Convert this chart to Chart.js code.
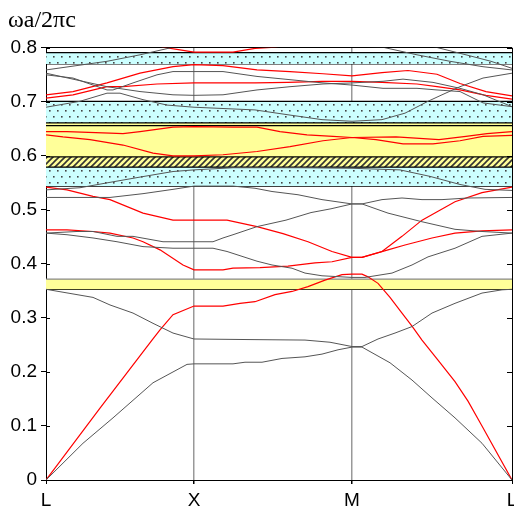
<!DOCTYPE html>
<html>
<head>
<meta charset="utf-8">
<script src="https://cdn.jsdelivr.net/npm/chart.js@4/dist/chart.umd.min.js"></script>
<style>
  body { margin: 0; background: #fff; }
</style>
</head>
<body>
<canvas id="myChart" width="514" height="511"></canvas>
<script>
// k-path positions (distance along L-X-M-L) and labels
const kPos = [0, 148, 306, 466];
const kLabels = ['L', 'X', 'M', 'L'];
const yTicks = [0, 0.1, 0.2, 0.3, 0.4, 0.5, 0.6, 0.7, 0.8];

// gaps: lower edge, upper edge, fill style
const gapLo = [0.353, 0.544, 0.579, 0.598, 0.656, 0.661, 0.770];
const gapHi = [0.372, 0.579, 0.598, 0.656, 0.661, 0.701, 0.791];
const gapFill = ['yellow', 'dots', 'hatch', 'yellow', 'yellow', 'dots', 'dots'];

// bands, [k, omega a / 2 pi c]
const gray1 = [[0,0],[37,0.068],[67,0.115],[107,0.18],[141,0.214],[148,0.215],[187,0.215],[199,0.218],[216,0.218],[236,0.225],[259,0.228],[276,0.233],[292,0.241],[306,0.246],[316,0.246],[344,0.217],[366,0.185],[386,0.152],[409,0.115],[436,0.068],[466,0]];
const gray2 = [[0,0.353],[47,0.338],[64,0.324],[87,0.309],[107,0.290],[127,0.272],[148,0.261],[200,0.260],[259,0.259],[284,0.255],[306,0.247],[316,0.247],[332,0.261],[349,0.272],[366,0.284],[386,0.309],[409,0.327],[436,0.346],[456,0.352],[466,0.353]];
const red1 = [[0,0],[54,0.133],[106,0.259],[114,0.278],[127,0.306],[148,0.322],[177,0.322],[194,0.327],[209,0.330],[229,0.343],[246,0.349],[262,0.358],[279,0.370],[296,0.380],[306,0.381],[316,0.381],[322,0.376],[332,0.364],[344,0.338],[356,0.309],[366,0.285],[376,0.259],[392,0.222],[409,0.182],[422,0.146],[436,0.100],[466,0]];
const gray3 = [[0,0.457],[21,0.454],[47,0.448],[71,0.441],[97,0.432],[127,0.429],[148,0.429],[167,0.429],[181,0.423],[201,0.411],[211,0.405],[226,0.398],[246,0.392],[259,0.383],[276,0.378],[306,0.375],[319,0.375],[346,0.383],[366,0.398],[382,0.413],[409,0.429],[436,0.451],[466,0.457]];
const red2 = [[0,0.463],[21,0.463],[47,0.460],[64,0.457],[87,0.448],[97,0.441],[114,0.426],[137,0.398],[148,0.389],[177,0.389],[187,0.392],[214,0.393],[242,0.396],[269,0.402],[286,0.404],[306,0.412],[316,0.412],[342,0.426],[359,0.435],[386,0.448],[409,0.457],[436,0.461],[466,0.463]];
const gray4 = [[0,0.457],[31,0.460],[47,0.460],[71,0.451],[87,0.451],[117,0.441],[148,0.441],[167,0.441],[177,0.448],[187,0.454],[211,0.469],[240,0.481],[265,0.495],[285,0.502],[306,0.511],[316,0.511],[336,0.519],[356,0.522],[376,0.519],[396,0.519],[422,0.522],[466,0.523]];
const red3 = [[0,0.542],[21,0.537],[47,0.525],[64,0.519],[97,0.494],[127,0.481],[148,0.481],[181,0.481],[211,0.469],[237,0.456],[262,0.441],[286,0.423],[306,0.412],[316,0.412],[336,0.423],[356,0.451],[376,0.481],[409,0.515],[436,0.532],[466,0.542]];
const gray5 = [[0,0.523],[64,0.523],[97,0.530],[127,0.538],[148,0.544],[187,0.544],[209,0.540],[226,0.534],[252,0.528],[276,0.519],[306,0.511],[316,0.511],[342,0.494],[376,0.478],[409,0.464],[436,0.460],[466,0.457]];
const gray6 = [[0,0.537],[34,0.541],[61,0.550],[95,0.561],[127,0.571],[148,0.574],[187,0.578],[254,0.578],[306,0.577],[354,0.574],[384,0.562],[414,0.547],[439,0.538],[466,0.536]];
const red4 = [[0,0.645],[21,0.645],[64,0.642],[77,0.641],[94,0.645],[127,0.653],[148,0.654],[187,0.653],[211,0.653],[234,0.645],[261,0.639],[287,0.636],[306,0.634],[350,0.635],[393,0.630],[420,0.636],[441,0.641],[466,0.645]];
const red5 = [[0,0.639],[17,0.635],[44,0.630],[77,0.620],[107,0.605],[127,0.600],[148,0.600],[177,0.602],[211,0.608],[244,0.617],[277,0.628],[306,0.634],[330,0.630],[357,0.622],[387,0.622],[414,0.628],[437,0.636],[466,0.638]];
const gray7 = [[0,0.690],[34,0.701],[61,0.716],[74,0.716],[97,0.704],[121,0.694],[148,0.690],[209,0.685],[242,0.676],[276,0.667],[306,0.664],[336,0.667],[359,0.679],[382,0.701],[396,0.713],[414,0.728],[437,0.744],[466,0.753]];
const gray8 = [[0,0.753],[44,0.735],[61,0.728],[94,0.719],[127,0.713],[148,0.712],[177,0.713],[211,0.722],[244,0.728],[277,0.733],[306,0.735],[337,0.738],[357,0.742],[387,0.736],[414,0.725],[437,0.713],[466,0.691]];
const gray9 = [[0,0.750],[27,0.744],[61,0.722],[67,0.722],[87,0.735],[111,0.750],[127,0.756],[148,0.756],[177,0.756],[211,0.747],[244,0.741],[277,0.735],[306,0.731],[337,0.725],[371,0.725],[391,0.722],[414,0.719],[437,0.698],[466,0.691]];
const red6 = [[0,0.713],[27,0.719],[61,0.735],[94,0.753],[127,0.765],[148,0.769],[177,0.767],[211,0.759],[244,0.756],[277,0.752],[306,0.748],[336,0.754],[362,0.758],[391,0.751],[414,0.734],[440,0.719],[466,0.711]];
const red7 = [[0,0.707],[27,0.713],[61,0.728],[77,0.728],[111,0.733],[148,0.735],[209,0.735],[242,0.736],[276,0.738],[306,0.738],[336,0.736],[371,0.733],[391,0.728],[414,0.722],[440,0.712],[466,0.705]];
const gray10 = [[0,0.759],[61,0.775],[94,0.787],[127,0.801],[150,0.808],[241,0.803],[300,0.804],[337,0.801],[371,0.787],[404,0.775],[437,0.765],[466,0.759]];
const gray11 = [[360,0.812],[390,0.801],[420,0.787],[445,0.775],[466,0.762]];
const red8 = [[100,0.815],[117,0.801],[134,0.796],[148,0.792],[187,0.792],[209,0.799],[229,0.801],[250,0.81]];

const grayBands = [gray1, gray2, gray3, gray4, gray5, gray6, gray7, gray8, gray9, gray10, gray11];
const redBands = [red1, red2, red3, red4, red5, red6, red7, red8];

function makePattern(kind) {
  const c = document.createElement('canvas');
  const g = c.getContext('2d');
  if (kind === 'dots') {
    c.width = 8; c.height = 12;
    g.fillStyle = '#ccffff';
    g.fillRect(0, 0, 8, 12);
    g.fillStyle = '#444';
    g.fillRect(1, 2, 1.6, 1.6);
    g.fillRect(5, 8, 1.6, 1.6);
  } else {
    c.width = 6; c.height = 6;
    g.fillStyle = '#ffff99';
    g.fillRect(0, 0, 6, 6);
    g.strokeStyle = '#333';
    g.lineWidth = 1.6;
    g.beginPath();
    g.moveTo(0, 6); g.lineTo(6, 0);
    g.moveTo(-1, 1); g.lineTo(1, -1);
    g.moveTo(5, 7); g.lineTo(7, 5);
    g.stroke();
  }
  return g.createPattern(c, 'repeat');
}

const fills = {
  yellow: '#ffff99',
  dots: makePattern('dots'),
  hatch: makePattern('hatch')
};

const toXY = arr => arr.map(p => ({x: p[0], y: p[1]}));

const datasets = [];
grayBands.forEach(b => datasets.push({
  data: toXY(b), borderColor: '#555', borderWidth: 1, pointRadius: 0, fill: false, order: 0
}));
redBands.forEach(b => datasets.push({
  data: toXY(b), borderColor: '#ff0000', borderWidth: 1.2, pointRadius: 0, fill: false, order: 0
}));
gapLo.forEach((lo, i) => {
  const hi = gapHi[i];
  datasets.push({
    data: [{x: kPos[0], y: hi}, {x: kPos[3], y: hi}],
    borderColor: i === 0 ? '#888' : '#000', borderWidth: 1.2, pointRadius: 0,
    fill: '+1', backgroundColor: fills[gapFill[i]], order: 2
  });
  datasets.push({
    data: [{x: kPos[0], y: lo}, {x: kPos[3], y: lo}],
    borderColor: '#000', borderWidth: 1.2, pointRadius: 0, fill: false, order: 2
  });
});

const innerTicks = {
  id: 'innerTicks',
  afterDraw(chart) {
    const {ctx, chartArea: a, scales: {y}} = chart;
    ctx.save();
    ctx.strokeStyle = '#000';
    ctx.lineWidth = 1;
    yTicks.forEach(v => {
      const py = Math.round(y.getPixelForValue(v)) + 0.5;
      ctx.beginPath();
      ctx.moveTo(a.left, py); ctx.lineTo(a.left + 4, py);
      ctx.moveTo(a.right - 5, py); ctx.lineTo(a.right, py);
      ctx.stroke();
    });
    ctx.restore();
  }
};

const ctx = document.getElementById('myChart').getContext('2d');
let myChart = new Chart(ctx, {
  type: 'line',
  data: { datasets: datasets },
  plugins: [innerTicks],
  options: {
    responsive: false,
    animation: false,
    layout: { padding: { left: 8, right: 2, top: 0, bottom: 0 } },
    plugins: {
      legend: { display: false },
      tooltip: { enabled: false },
      title: {
        display: true,
        text: 'ωa/2πc',
        align: 'start',
        color: '#000',
        font: { family: 'Liberation Serif', size: 24, weight: 'normal' },
        padding: { top: 6, bottom: 13 }
      }
    },
    scales: {
      x: {
        type: 'linear',
        min: kPos[0],
        max: kPos[3],
        z: 1,
        afterBuildTicks: s => { s.ticks = kPos.map(v => ({value: v})); },
        afterFit: s => { s.height = 31; s.paddingLeft = 0; s.paddingRight = 0; },
        ticks: {
          callback: (v, i) => kLabels[i],
          color: '#000',
          padding: 5,
          maxRotation: 0,
          font: { family: 'Liberation Sans', size: 19 }
        },
        grid: {
          color: c => (c.index === 1 || c.index === 2) ? '#999' : '#000',
          lineWidth: c => (c.index === 1 || c.index === 2) ? 1.5 : 1,
          tickColor: '#000',
          tickLength: 4
        },
        border: { color: '#000' }
      },
      y: {
        min: 0,
        max: 0.8,
        afterFit: s => { s.width = 38; },
        ticks: {
          stepSize: 0.1,
          callback: v => (Math.abs(v) < 1e-9 ? '0' : v.toFixed(1)),
          color: '#000',
          padding: 4,
          font: { family: 'Liberation Sans', size: 19 }
        },
        grid: {
          color: c => (c.tick && c.tick.value > 0.79) ? '#000' : 'rgba(0,0,0,0)',
          tickColor: '#000',
          tickLength: 5
        },
        border: { color: '#000' }
      }
    }
  }
});
</script>
</body>
</html>
